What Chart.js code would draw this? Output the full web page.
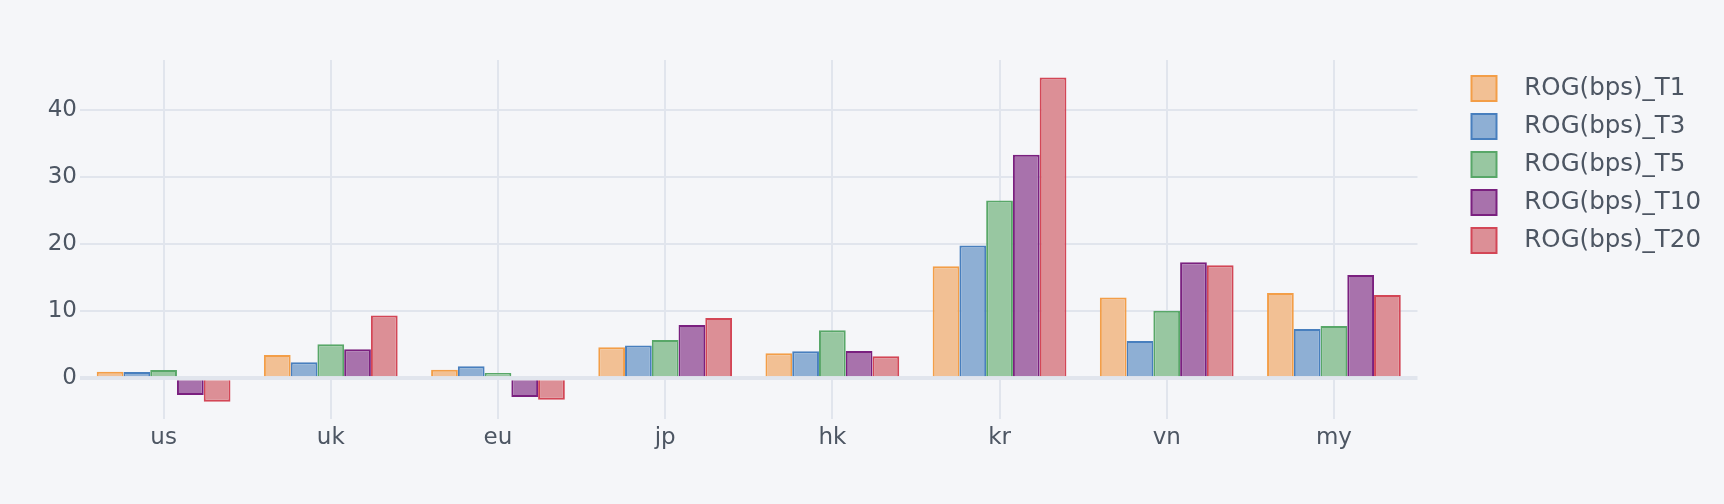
<!DOCTYPE html>
<html>
<head>
<meta charset="utf-8">
<title>ROG(bps) by market</title>
<script src="https://cdn.jsdelivr.net/npm/chart.js@4.4.0/dist/chart.umd.min.js"></script>
<style>
  html, body { margin: 0; padding: 0; background: #f5f6f9; }
  #wrap { width: 1724px; height: 504px; }
</style>
</head>
<body>
<div id="wrap"><canvas id="rogChart" width="1724" height="504"></canvas></div>
<script>
// values
const markets = ["us", "uk", "eu", "jp", "hk", "kr", "vn", "my"];
const rogT1 = [0.98, 3.47, 1.28, 4.62, 3.72, 16.69, 12.01, 12.71];
const rogT3 = [0.92, 2.38, 1.79, 4.86, 4.02, 19.76, 5.56, 7.35];
const rogT5 = [1.24, 5.07, 0.79, 5.71, 7.15, 26.47, 10.07, 7.79];
const rogT10 = [-2.49, 4.32, -2.79, 7.94, 4.07, 33.28, 17.29, 15.39];
const rogT20 = [-3.49, 9.33, -3.19, 8.99, 3.28, 44.8, 16.84, 12.41];
const seriesNames = ["ROG(bps)_T1", "ROG(bps)_T3", "ROG(bps)_T5", "ROG(bps)_T10", "ROG(bps)_T20"];
const yTicks = [0, 10, 20, 30, 40];

const lineColors = ["rgb(243,158,72)", "rgb(72,127,190)", "rgb(88,167,104)", "rgb(122,32,127)", "rgb(211,70,86)"];
const fillColors = ["rgb(242,192,148)", "rgb(142,175,212)", "rgb(152,199,161)", "rgb(168,114,172)", "rgb(220,143,150)"];

const gridColor = "#e1e5ed";
const textColor = "#4d5663";

Chart.defaults.font.family = "'DejaVu Sans', Verdana, sans-serif";
Chart.defaults.color = textColor;

const allSeries = [rogT1, rogT3, rogT5, rogT10, rogT20];

const ctx = document.getElementById("rogChart").getContext("2d");
const rogChart = new Chart(ctx, {
  type: "bar",
  data: {
    labels: markets,
    datasets: allSeries.map((vals, i) => ({
      label: seriesNames[i],
      data: vals,
      backgroundColor: fillColors[i],
      borderColor: lineColors[i],
      borderWidth: 2,
      categoryPercentage: 0.8,
      barPercentage: 1.0,
    })),
  },
  options: {
    responsive: false,
    animation: false,
    layout: { padding: { top: 60, left: 0, right: 13, bottom: 0 } },
    plugins: {
      tooltip: { enabled: false },
      legend: {
        position: "right",
        align: "start",
        title: { display: true, text: "", font: { size: 3, lineHeight: 1 }, padding: 0 },
        labels: {
          boxWidth: 25,
          boxHeight: 25,
          padding: 13,
          color: textColor,
          font: { size: 24.5 },
          generateLabels: (chart) =>
            Chart.defaults.plugins.legend.labels.generateLabels(chart).map((item) => ({
              ...item,
              text: "  " + item.text,
            })),
        },
      },
    },
    scales: {
      x: {
        grid: { color: gridColor, lineWidth: 2, offset: false, drawTicks: false },
        border: { display: false },
        ticks: { font: { size: 23 }, padding: 5, color: textColor },
        afterFit: (scale) => { scale.height = 85; },
      },
      y: {
        min: -6.07,
        max: 47.4,
        grid: {
          color: gridColor,
          lineWidth: (c) => (c.tick && c.tick.value === 0 ? 4 : 2),
          drawTicks: false,
        },
        border: { display: false },
        ticks: { font: { size: 23 }, padding: 3, color: textColor },
        afterBuildTicks: (scale) => { scale.ticks = yTicks.map((v) => ({ value: v })); },
        afterFit: (scale) => { scale.width = 80; },
      },
      // empty spacer between the plot and the legend
      gap: {
        position: "right",
        display: true,
        grid: { display: false },
        border: { display: false },
        ticks: { display: false },
        afterFit: (scale) => { scale.width = 41; },
      },
    },
  },
});
</script>
</body>
</html>
